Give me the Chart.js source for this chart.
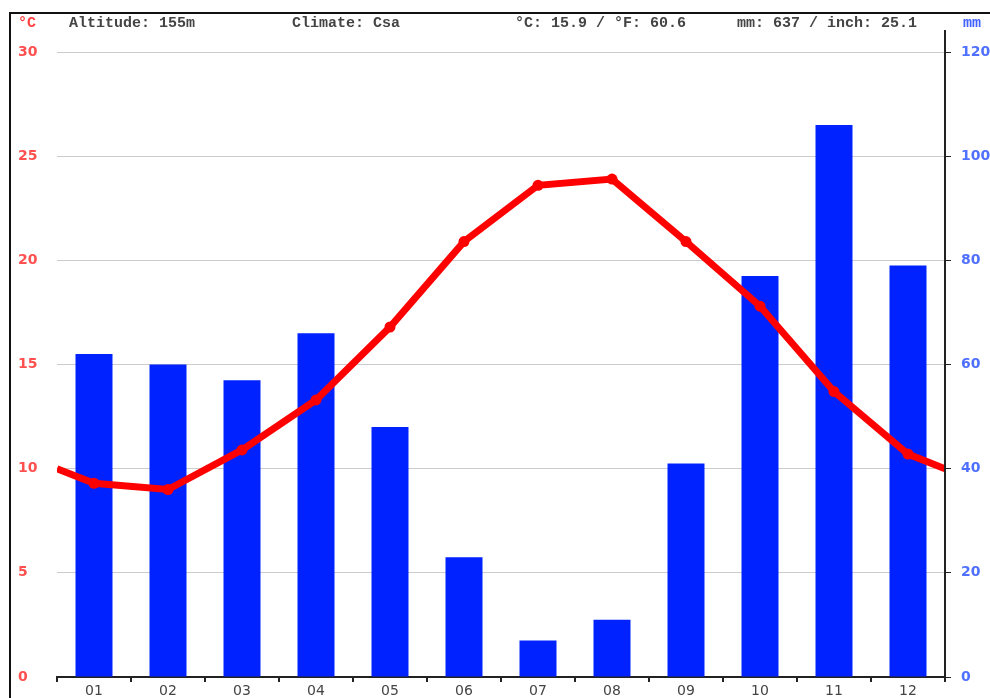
<!DOCTYPE html>
<html>
<head>
<meta charset="utf-8">
<script src="https://cdn.jsdelivr.net/npm/chart.js@4"></script>
<style>
    html, body { margin: 0; padding: 0; background: #fff; }
    #wrap { position: relative; width: 990px; height: 698px; overflow: hidden; }
    #frame { position: absolute; left: 9px; top: 12px; width: 990px; height: 700px;
             border-left: 2px solid #111; border-top: 2px solid #111; }
    .hd { position: absolute; top: 15px; font: bold 15px "Liberation Mono", monospace; color: #444; white-space: pre; }
    #chart { position: absolute; left: 0; top: 0; }
</style>
</head>
<body>
<div id="wrap">
    <div id="frame"></div>
    <canvas id="chart" width="990" height="698"></canvas>
    <div class="hd" style="left:18px;color:#ff4040">°C</div>
    <div class="hd" style="left:69px">Altitude: 155m</div>
    <div class="hd" style="left:292px">Climate: Csa</div>
    <div class="hd" style="left:515px">°C: 15.9 / °F: 60.6</div>
    <div class="hd" style="left:737px">mm: 637 / inch: 25.1</div>
    <div class="hd" style="left:963px;color:#4060ff">mm</div>
</div>
<script>
let months = ["01", "02", "03", "04", "05", "06", "07", "08", "09", "10", "11", "12"];
let precip = [62, 60, 57, 66, 48, 23, 7, 11, 41, 77, 106, 79];
let temps = [9.3, 9.0, 10.9, 13.3, 16.8, 20.9, 23.6, 23.9, 20.9, 17.8, 13.7, 10.7];
// temperature where the curve meets the left and right edges
let edgeTemp = 10.0;

let linePoints = [{x: 0, y: edgeTemp}];
temps.forEach((t, i) => linePoints.push({x: i + 0.5, y: t}));
linePoints.push({x: months.length, y: edgeTemp});

let pointSizes = linePoints.map((p, i) => (i === 0 || i === linePoints.length - 1) ? 0 : 5.5);

// right axis line runs a little above the plot area
let axisLinePlugin = {
    id: "axisLine",
    afterDraw(chart) {
        let s = chart.scales.yP;
        let ctx = chart.ctx;
        ctx.save();
        ctx.strokeStyle = "#222";
        ctx.lineWidth = 2;
        ctx.beginPath();
        ctx.moveTo(s.left, chart.chartArea.top - 22);
        ctx.lineTo(s.left, chart.chartArea.bottom + 4);
        ctx.stroke();
        ctx.restore();
    }
};

let ctx = document.getElementById("chart").getContext("2d");
new Chart(ctx, {
    data: {
        labels: months,
        datasets: [
            {
                type: "line",
                data: linePoints,
                xAxisID: "xLine",
                yAxisID: "yT",
                borderColor: "#ff0000",
                backgroundColor: "#ff0000",
                borderWidth: 7,
                pointRadius: pointSizes,
                pointBorderWidth: 0,
                tension: 0,
                order: 0
            },
            {
                type: "bar",
                data: precip,
                xAxisID: "x",
                yAxisID: "yP",
                backgroundColor: "#0022ff",
                grouped: false,
                barPercentage: 0.5,
                categoryPercentage: 1,
                order: 1
            }
        ]
    },
    options: {
        responsive: false,
        animation: false,
        layout: { padding: { left: 18, top: 52, right: 0, bottom: 0 } },
        plugins: { legend: { display: false }, tooltip: { enabled: false } },
        scales: {
            x: {
                type: "category",
                offset: true,
                grid: { offset: true, drawOnChartArea: false, tickLength: 5, color: "#222", lineWidth: 2 },
                border: { display: true, color: "#222", width: 2 },
                ticks: { color: "#444", font: { family: "DejaVu Sans", size: 14 }, padding: 1 },
                afterFit(s) { s.height = 21; }
            },
            xLine: {
                type: "linear",
                min: 0,
                max: 12,
                display: false
            },
            yT: {
                position: "left",
                min: 0,
                max: 30,
                ticks: { stepSize: 5, color: "#ff5050", crossAlign: "far",
                         font: { family: "DejaVu Sans", size: 14, weight: "bold" } },
                grid: { color: "#cccccc", lineWidth: 1, drawTicks: false },
                border: { display: false },
                afterFit(s) { s.width = 39; }
            },
            yP: {
                position: "right",
                min: 0,
                max: 120,
                ticks: { stepSize: 20, color: "#5070ff", padding: 10, crossAlign: "near",
                         font: { family: "DejaVu Sans", size: 14, weight: "bold" } },
                grid: { drawOnChartArea: false, tickLength: 6, color: "#222" },
                border: { display: true, color: "#222", width: 2 },
                afterFit(s) { s.width = 45; }
            }
        }
    },
    plugins: [axisLinePlugin]
});
</script>
</body>
</html>
